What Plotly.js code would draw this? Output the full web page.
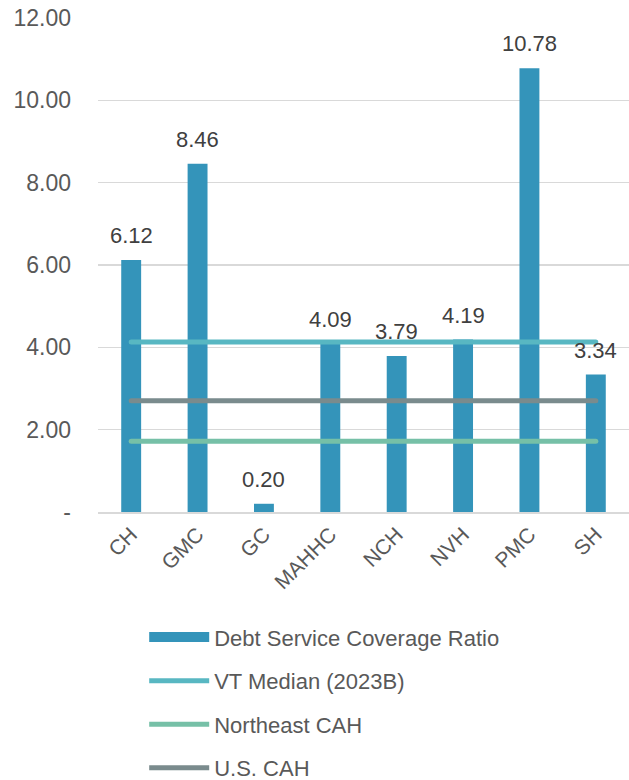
<!DOCTYPE html>
<html>
<head>
<meta charset="utf-8">
<script src="https://cdn.plot.ly/plotly-3.0.1.min.js"></script>
<style>
html,body{margin:0;padding:0;background:#fff;}
#chart{width:629px;height:780px;}
.scatterlayer .js-line{stroke-linecap:round;}
</style>
</head>
<body>
<div id="chart"></div>
<script>
const categories = ["CH","GMC","GC","MAHHC","NCH","NVH","PMC","SH"];
const dscr = [6.12, 8.46, 0.20, 4.09, 3.79, 4.19, 10.78, 3.34];
const dscrLabels = ["6.12","8.46","0.20","4.09","3.79","4.19","10.78","3.34"];
const vtMedian = 4.13;
const northeastCAH = 1.72;
const usCAH = 2.70;
const yTickVals = [0, 2, 4, 6, 8, 10, 12];
const yTickText = ["-", "2.00", "4.00", "6.00", "8.00", "10.00", "12.00"];

const FONT = "Liberation Sans, Arial, sans-serif";
const ends = [categories[0], categories[categories.length - 1]];

const traces = [
  {
    type: "bar", x: categories, y: dscr, name: "Debt Service Coverage Ratio",
    marker: {color: "#3494BA"}, width: 0.3,
    showlegend: false, hoverinfo: "x+y"
  },
  {
    type: "scatter", mode: "lines", x: ends, y: [vtMedian, vtMedian], name: "VT Median (2023B)",
    line: {color: "#58B7C2", width: 5}, legendgroup: "b", showlegend: false
  },
  {
    type: "scatter", mode: "lines", x: ends, y: [usCAH, usCAH], name: "U.S. CAH",
    line: {color: "#7A8B8D", width: 5}, legendgroup: "d", showlegend: false
  },
  {
    type: "scatter", mode: "lines", x: ends, y: [northeastCAH, northeastCAH], name: "Northeast CAH",
    line: {color: "#76C0A7", width: 5}, legendgroup: "c", showlegend: false
  },
  // legend entries
  {type: "scatter", mode: "lines", x: [null], y: [null], name: "Debt Service Coverage Ratio",
   line: {color: "#3494BA", width: 13}, legendgroup: "a", legendrank: 1, hoverinfo: "skip"},
  {type: "scatter", mode: "lines", x: [null], y: [null], name: "VT Median (2023B)",
   line: {color: "#58B7C2", width: 5}, legendgroup: "b", legendrank: 2, hoverinfo: "skip"},
  {type: "scatter", mode: "lines", x: [null], y: [null], name: "Northeast CAH",
   line: {color: "#76C0A7", width: 5}, legendgroup: "c", legendrank: 3, hoverinfo: "skip"},
  {type: "scatter", mode: "lines", x: [null], y: [null], name: "U.S. CAH",
   line: {color: "#7A8B8D", width: 5}, legendgroup: "d", legendrank: 4, hoverinfo: "skip"}
];

const annotations = categories.map((c, i) => ({
  x: c, y: dscr[i], xref: "x", yref: "y", text: dscrLabels[i],
  showarrow: false, yanchor: "bottom", yshift: 10,
  font: {family: FONT, size: 22, color: "#404040"}
}));

const layout = {
  width: 629, height: 780,
  margin: {l: 98, r: 0, t: 18, b: 268, autoexpand: false},
  paper_bgcolor: "#fff", plot_bgcolor: "#fff",
  font: {family: FONT, color: "#595959", size: 22},
  annotations: annotations,
  xaxis: {
    type: "category", categoryorder: "array", categoryarray: categories,
    tickangle: -45, tickfont: {family: FONT, size: 21, color: "#595959"},
    showgrid: false, showline: true, linecolor: "#D9D9D9", linewidth: 2,
    ticks: "", zeroline: false, fixedrange: true, automargin: false
  },
  yaxis: {
    range: [0, 12], tickvals: yTickVals, ticktext: yTickText,
    tickfont: {family: FONT, size: 23, color: "#595959"},
    showgrid: true, gridcolor: "#D9D9D9", gridwidth: 1.5,
    zeroline: false, showline: false, ticks: "", ticklen: 0, ticklabelstandoff: 26,
    fixedrange: true, automargin: false
  },
  showlegend: true,
  legend: {
    orientation: "v", x: 0.087, xanchor: "left", y: -0.211, yanchor: "top",
    traceorder: "grouped", tracegroupgap: 12, itemwidth: 60,
    font: {family: FONT, size: 22, color: "#595959"}, bgcolor: "rgba(0,0,0,0)"
  }
};

Plotly.newPlot("chart", traces, layout, {displayModeBar: false, staticPlot: true});
</script>
</body>
</html>
